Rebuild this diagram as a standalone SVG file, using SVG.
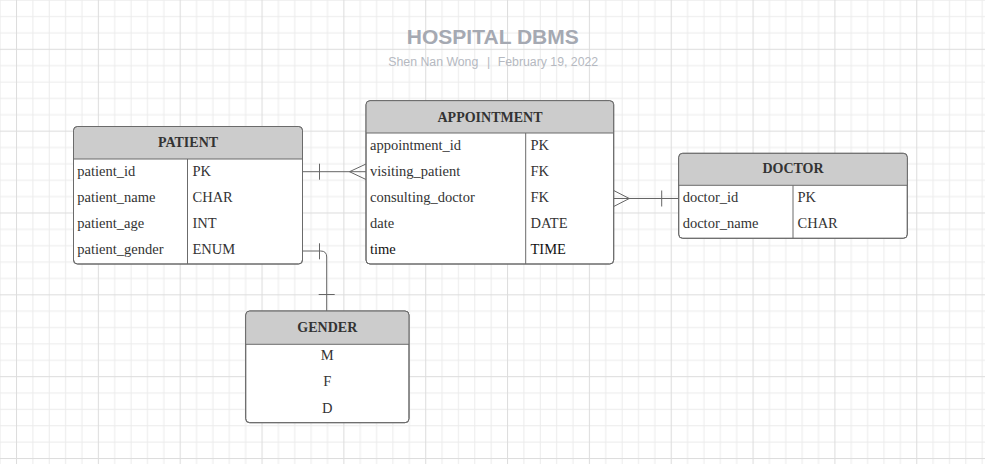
<svg xmlns="http://www.w3.org/2000/svg" width="985" height="464" viewBox="0 0 985 464">
<defs>
<pattern id="grid" patternUnits="userSpaceOnUse" x="16" y="48.8" width="81.84" height="81.84">
<rect width="81.84" height="81.84" fill="#ffffff"/>
<g fill="#ececec">
<rect x="16.37" y="0" width="1" height="81.84"/>
<rect x="32.74" y="0" width="1" height="81.84"/>
<rect x="49.1" y="0" width="1" height="81.84"/>
<rect x="65.47" y="0" width="1" height="81.84"/>
<rect x="0" y="16.37" width="81.84" height="1"/>
<rect x="0" y="32.74" width="81.84" height="1"/>
<rect x="0" y="49.1" width="81.84" height="1"/>
<rect x="0" y="65.47" width="81.84" height="1"/>
</g>
<g fill="#dddddd">
<rect x="0" y="0" width="1" height="81.84"/>
<rect x="0" y="0" width="81.84" height="1"/>
</g>
</pattern>
<style>
.box{fill:#ffffff;stroke:#6b6b6b;stroke-width:1}
.hdr{fill:#cccccc;stroke:none}
.sep{stroke:#6b6b6b;stroke-width:1;fill:none}
.ht{font-family:"Liberation Serif",serif;font-weight:bold;font-size:14px;fill:#333333;text-anchor:middle}
.t{font-family:"Liberation Serif",serif;font-size:14.5px;fill:#333333}
.tc{font-family:"Liberation Serif",serif;font-size:14.5px;fill:#333333;text-anchor:middle}
.dk{fill:#111111}
.conn{stroke:#666666;stroke-width:1;fill:none}
.title{font-family:"Liberation Sans",Arial,sans-serif;font-weight:bold;font-size:21px;fill:#a5a9b2;text-anchor:middle}
.sub{font-family:"Liberation Sans",Arial,sans-serif;font-size:12.3px;fill:#b5b9c1}
</style>
</defs>
<rect x="0" y="0" width="985" height="464" fill="url(#grid)"/>

<g id="title">
<text class="title" x="492.8" y="44">HOSPITAL DBMS</text>
<text class="sub" x="478.3" y="65.5" text-anchor="end">Shen Nan Wong</text>
<text class="sub" x="488.5" y="65.5" text-anchor="middle">|</text>
<text class="sub" x="497.7" y="65.5">February 19, 2022</text>
</g>

<g id="connectors">
<!-- PATIENT to APPOINTMENT -->
<line class="conn" x1="302" y1="171.7" x2="366" y2="171.7"/>
<line class="conn" x1="319.5" y1="163.7" x2="319.5" y2="179.7"/>
<path class="conn" d="M366,164 L349.5,171.7 L366,179.5"/>
<!-- APPOINTMENT to DOCTOR -->
<line class="conn" x1="613.7" y1="198.5" x2="678.7" y2="198.5"/>
<path class="conn" d="M613.7,190.5 L629.3,198.5 L613.7,206.5"/>
<line class="conn" x1="661.7" y1="190.5" x2="661.7" y2="206.5"/>
<!-- PATIENT to GENDER -->
<path class="conn" d="M302,251 H320.7 Q326.7,251 326.7,257 V311"/>
<line class="conn" x1="319.5" y1="243.3" x2="319.5" y2="259.3"/>
<line class="conn" x1="318.7" y1="294.5" x2="334.7" y2="294.5"/>
</g>

<g id="patient">
<rect class="box" x="73.5" y="126.5" width="229" height="137.5" rx="4"/>
<path class="hdr" d="M74,159 V131 Q74,127 78,127 H298 Q302,127 302,131 V159 Z"/>
<rect class="box" x="73.5" y="126.5" width="229" height="137.5" rx="4" fill="none" style="fill:none"/>
<line class="sep" x1="73.5" y1="159" x2="302.5" y2="159"/>
<line class="sep" x1="187.5" y1="159" x2="187.5" y2="264"/>
<text class="ht" x="188" y="147">PATIENT</text>
<text class="t" x="77.3" y="176">patient_id</text>
<text class="t" x="192.5" y="176">PK</text>
<text class="t" x="77.3" y="202">patient_name</text>
<text class="t" x="192.5" y="202">CHAR</text>
<text class="t" x="77.3" y="228">patient_age</text>
<text class="t" x="192.5" y="228">INT</text>
<text class="t" x="77.3" y="254">patient_gender</text>
<text class="t" x="192.5" y="254">ENUM</text>
</g>

<g id="appointment">
<rect class="box" x="366" y="100.7" width="247.7" height="163.3" rx="4"/>
<path class="hdr" d="M366.5,133 V105 Q366.5,101.2 370.5,101.2 H609.2 Q613.2,101.2 613.2,105 V133 Z"/>
<rect class="box" x="366" y="100.7" width="247.7" height="163.3" rx="4" style="fill:none"/>
<line class="sep" x1="366" y1="133" x2="613.7" y2="133"/>
<line class="sep" x1="525.7" y1="133" x2="525.7" y2="264"/>
<text class="ht" x="490" y="121.5">APPOINTMENT</text>
<text class="t" x="370" y="150">appointment_id</text>
<text class="t" x="530.5" y="150">PK</text>
<text class="t" x="370" y="176">visiting_patient</text>
<text class="t" x="530.5" y="176">FK</text>
<text class="t" x="370" y="202">consulting_doctor</text>
<text class="t" x="530.5" y="202">FK</text>
<text class="t" x="370" y="228">date</text>
<text class="t" x="530.5" y="228">DATE</text>
<text class="t dk" x="370" y="254">time</text>
<text class="t dk" x="530.5" y="254">TIME</text>
</g>

<g id="doctor">
<rect class="box" x="678.7" y="153.3" width="228.6" height="85" rx="4"/>
<path class="hdr" d="M679.2,185.3 V157.3 Q679.2,153.8 683.2,153.8 H902.8 Q906.8,153.8 906.8,157.3 V185.3 Z"/>
<rect class="box" x="678.7" y="153.3" width="228.6" height="85" rx="4" style="fill:none"/>
<line class="sep" x1="678.7" y1="185.3" x2="907.3" y2="185.3"/>
<line class="sep" x1="793" y1="185.3" x2="793" y2="238.3"/>
<text class="ht" x="793" y="173">DOCTOR</text>
<text class="t" x="682.7" y="202">doctor_id</text>
<text class="t" x="797.5" y="202">PK</text>
<text class="t" x="682.7" y="228">doctor_name</text>
<text class="t" x="797.5" y="228">CHAR</text>
</g>

<g id="gender">
<rect class="box" x="245.7" y="311" width="163.3" height="111.7" rx="4"/>
<path class="hdr" d="M246.2,344.3 V315 Q246.2,311.5 250.2,311.5 H404.5 Q408.5,311.5 408.5,315 V344.3 Z"/>
<rect class="box" x="245.7" y="311" width="163.3" height="111.7" rx="4" style="fill:none"/>
<line class="sep" x1="245.7" y1="344.3" x2="409" y2="344.3"/>
<text class="ht" x="327.3" y="332">GENDER</text>
<text class="tc" x="327.3" y="360.3">M</text>
<text class="tc" x="327.3" y="386.3">F</text>
<text class="tc" x="327.3" y="412.5">D</text>
</g>
</svg>
